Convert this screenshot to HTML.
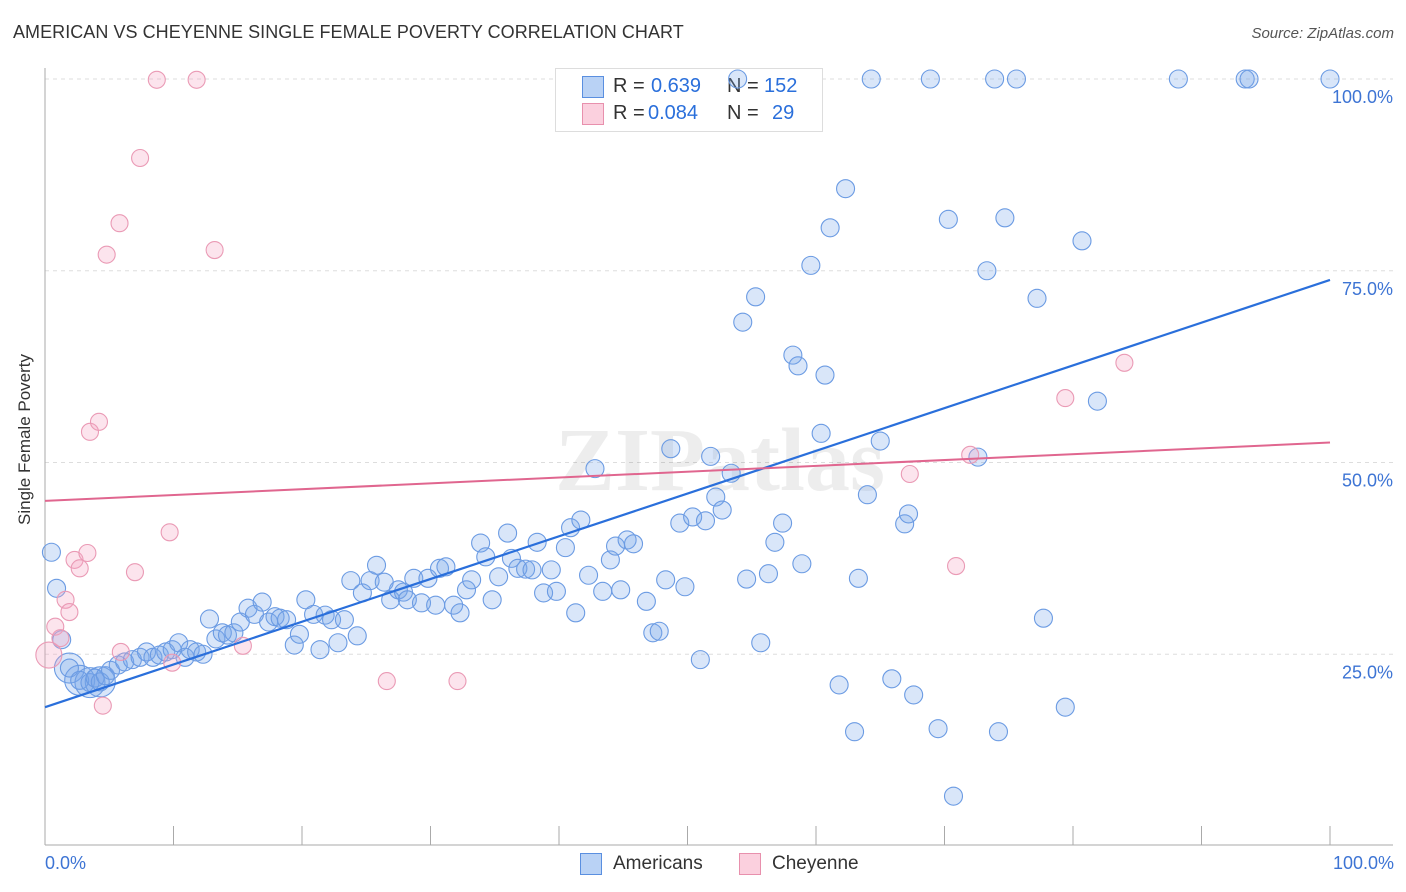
<!DOCTYPE html>
<html><head><meta charset="utf-8"><style>
body{margin:0;background:#fff;font-family:"Liberation Sans",sans-serif;}
#wrap{position:relative;width:1406px;height:892px;overflow:hidden;}
.t{position:absolute;white-space:nowrap;}
</style></head><body>
<div id="wrap">
<div class="t" style="left:13px;top:22px;font-size:18px;color:#333;letter-spacing:0.05px;">AMERICAN VS CHEYENNE SINGLE FEMALE POVERTY CORRELATION CHART</div>
<div class="t" style="right:12px;top:25px;font-size:15px;color:#555;font-style:italic;">Source: ZipAtlas.com</div>
<div style="position:absolute;left:555px;top:68px;width:266px;height:62px;border:1px solid #ddd;background:#fff;font-size:20px;">
 <div style="position:absolute;left:26px;top:7px;width:20px;height:20px;background:#b9d2f5;border:1px solid #5a8fe0;"></div>
 <div class="t" style="left:57px;top:6px;color:#333;">R =</div>
 <div class="t" style="left:95px;top:6px;color:#2a6fdb;">0.639</div>
 <div class="t" style="left:171px;top:6px;color:#333;">N =</div>
 <div class="t" style="left:208px;top:6px;color:#2a6fdb;">152</div>
 <div style="position:absolute;left:26px;top:34px;width:20px;height:20px;background:#fbd0de;border:1px solid #e890ad;"></div>
 <div class="t" style="left:57px;top:33px;color:#333;">R =</div>
 <div class="t" style="left:92px;top:33px;color:#2a6fdb;">0.084</div>
 <div class="t" style="left:171px;top:33px;color:#333;">N =</div>
 <div class="t" style="left:216px;top:33px;color:#2a6fdb;">29</div>
</div>
<svg id="plot" width="1406" height="892" style="position:absolute;left:0;top:0"></svg>
</div>
<script>
const blueX=[0.5,0.9,1.3,1.9,2.7,3.5,3.9,4.3,4.7,5.1,5.7,6.2,6.8,7.4,7.9,8.4,8.9,9.4,9.9,10.4,10.9,11.3,11.8,12.3,12.8,13.3,13.8,14.2,14.7,15.2,15.8,16.3,16.9,17.4,17.9,18.3,18.8,19.4,19.8,20.3,20.9,21.4,21.8,22.3,22.8,23.3,23.8,24.3,24.7,25.3,25.8,26.4,26.9,27.5,27.9,28.2,28.7,29.3,29.8,30.4,30.7,31.2,31.8,32.3,32.8,33.2,33.9,34.3,34.8,35.3,36.0,36.3,36.8,37.4,37.9,38.3,38.8,39.4,39.8,40.5,40.9,41.3,41.7,42.3,42.8,43.4,44.0,44.4,44.8,45.3,45.8,46.8,47.3,47.8,48.3,48.7,49.4,49.8,50.4,51.0,51.4,51.8,52.2,52.7,53.4,54.3,54.6,55.3,55.7,56.3,56.8,57.4,58.2,58.6,58.9,59.6,60.4,60.7,61.1,61.8,62.3,63.0,63.3,64.0,65.0,65.9,66.9,67.2,67.6,69.5,70.3,70.7,72.6,73.3,74.2,74.7,77.2,77.7,79.4,80.7,81.9];
const blueY=[38.3,33.6,26.9,23.2,21.6,21.3,21.9,21.4,22.2,22.9,23.6,24.0,24.3,24.6,25.3,24.6,24.9,25.3,25.6,26.5,24.6,25.6,25.3,25.0,29.6,27.0,27.8,27.5,27.8,29.2,31.0,30.2,31.8,29.2,29.9,29.7,29.5,26.2,27.6,32.1,30.2,25.6,30.1,29.5,26.5,29.5,34.6,27.4,33.0,34.6,36.6,34.4,32.1,33.4,33.1,32.1,34.9,31.7,34.9,31.4,36.2,36.4,31.4,30.4,33.4,34.7,39.5,37.7,32.1,35.1,40.8,37.5,36.2,36.1,36.0,39.6,33.0,36.0,33.2,38.9,41.5,30.4,42.5,35.3,49.2,33.2,37.3,39.1,33.4,39.9,39.4,31.9,27.8,28.0,34.7,51.8,42.1,33.8,42.9,24.3,42.4,50.8,45.5,43.8,48.6,68.3,34.8,71.6,26.5,35.5,39.6,42.1,64.0,62.6,36.8,75.7,53.8,61.4,80.6,21.0,85.7,14.9,34.9,45.8,52.8,21.8,42.0,43.3,19.7,15.3,81.7,6.5,50.7,75.0,14.9,81.9,71.4,29.7,18.1,78.9,58.0];
const blueTopX=[53.9,64.3,68.9,73.9,75.6,88.2,93.4,93.7,100];
const blueTopY=[100,100,100,100,100,100,100,100,100];
const blueBigX=[1.9,2.7,3.5,4.3];
const blueBigY=[23.2,21.6,21.3,21.4];
const pinkX=[0.3,0.8,1.2,1.6,1.9,2.3,2.7,3.3,3.5,4.2,4.5,4.8,5.8,5.9,7.0,7.4,8.7,9.7,9.9,11.8,13.2,15.4,26.6,32.1,67.3,70.9,72.0,79.4,84.0];
const pinkY=[24.9,28.6,27.1,32.1,30.5,37.3,36.2,38.2,54.0,55.3,18.3,77.1,81.2,25.3,35.7,89.7,99.9,40.9,23.9,99.9,77.7,26.1,21.5,21.5,48.5,36.5,51.0,58.4,63.0];
const blueLine=[18.1,73.8];
const pinkLine=[45.0,52.6];
const yTicks=[25,50,75,100];
const yTickLabels=["25.0%","50.0%","75.0%","100.0%"];
const xTicks=[0,10,20,30,40,50,60,70,80,90,100];

const X0=45,X1=1330,Y0=846,Y1=79;
const sx=v=>X0+(X1-X0)*v/100;
const sy=v=>Y0-(Y0-Y1)*v/100;
const svg=document.getElementById('plot');
const NS='http://www.w3.org/2000/svg';
function mk(tag,attrs){const e=document.createElementNS(NS,tag);for(const k in attrs)e.setAttribute(k,attrs[k]);svg.appendChild(e);return e;}

yTicks.forEach((v,i)=>{
  const g=mk('line',{x1:(v===100?822:X0),x2:1393,y1:sy(v),y2:sy(v),stroke:'#ddd','stroke-dasharray':'4,4'});
  
  
  const t=mk('text',{x:1393,y:sy(v)+24,'text-anchor':'end','font-size':'18',fill:'#3d74d4','font-family':'Liberation Sans, sans-serif'});
  t.textContent=yTickLabels[i];
  
  
});
let g0=mk('line',{x1:X0,x2:555,y1:sy(100),y2:sy(100),stroke:'#ddd','stroke-dasharray':'4,4'});


let ax=mk('line',{x1:X0,x2:X0,y1:68,y2:845,stroke:'#aaa'});


ax=mk('line',{x1:X0,x2:1393,y1:845,y2:845,stroke:'#aaa'});


xTicks.forEach(v=>{
  const l=mk('line',{x1:sx(v),x2:sx(v),y1:826,y2:845,stroke:'#aaa'});
  
  
});
let wm=mk('text',{x:720,y:490,'text-anchor':'middle','font-size':'90','font-family':'Liberation Serif, serif',fill:'#000','fill-opacity':'0.07','font-weight':'bold'});
wm.textContent='ZIPatlas';



function dot(x,y,r,fill,stroke,name){
  const c=mk('circle',{cx:sx(x),cy:sy(y),r:r,fill:fill,stroke:stroke,'stroke-width':1.1});
  
  
}
const BF='rgba(120,165,235,0.28)',BS='#6b9be3';
blueBigX.forEach((x,i)=>dot(x,blueBigY[i],15,BF,BS,'american-point'));
const nB=Math.min(blueX.length,blueY.length);
for(let i=0;i<nB;i++)dot(blueX[i],blueY[i],9,BF,BS,'american-point');
blueTopX.forEach((x,i)=>dot(x,blueTopY[i],9,BF,BS,'american-point'));
pinkX.forEach((x,i)=>dot(x,pinkY[i],i===0?13:8.5,'rgba(245,165,195,0.3)','#ea9ab5','cheyenne-point'));

let rl=mk('line',{x1:sx(0),y1:sy(blueLine[0]),x2:sx(100),y2:sy(blueLine[1]),stroke:'#2a6fdb','stroke-width':2.2});


rl=mk('line',{x1:sx(0),y1:sy(pinkLine[0]),x2:sx(100),y2:sy(pinkLine[1]),stroke:'#e0668f','stroke-width':2});


</script>
<div class="t" style="left:-45px;top:445px;font-size:17px;color:#333;transform:rotate(-90deg);width:140px;text-align:center;">Single Female Poverty</div>
<div class="t" style="left:45px;top:853px;font-size:18px;color:#3d74d4;">0.0%</div>
<div class="t" style="right:12px;top:853px;font-size:18px;color:#3d74d4;">100.0%</div>
<div style="position:absolute;left:580px;top:853px;">
 <div style="position:absolute;left:0;top:0;width:20px;height:20px;background:#b9d2f5;border:1px solid #5a8fe0;"></div>
 <div class="t" style="left:33px;top:0;font-size:19px;color:#333;">Americans</div>
</div>
<div style="position:absolute;left:739px;top:853px;">
 <div style="position:absolute;left:0;top:0;width:20px;height:20px;background:#fbd0de;border:1px solid #e890ad;"></div>
 <div class="t" style="left:33px;top:0;font-size:19px;color:#333;">Cheyenne</div>
</div>
</body></html>
